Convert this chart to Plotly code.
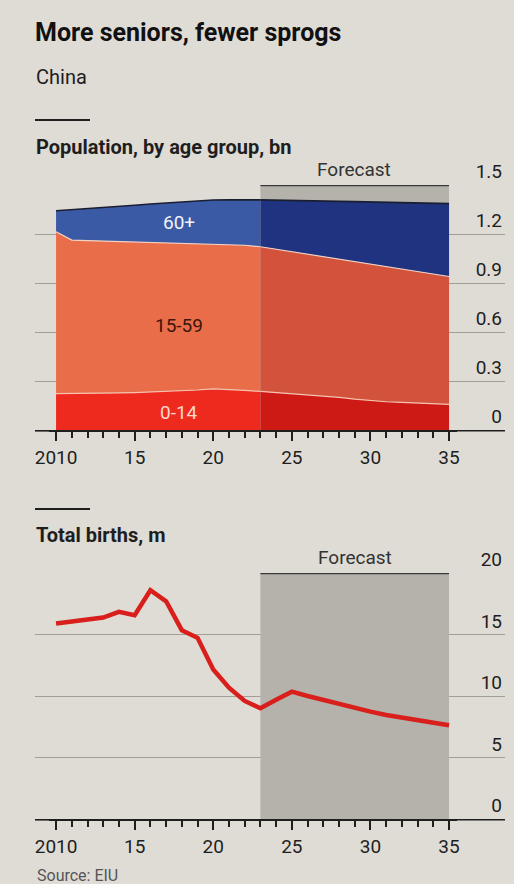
import plotly.graph_objects as go

# ---------------- data ----------------
years = list(range(2010, 2036))
forecast_start = 2023

age_0_14 = [0.223, 0.223, 0.224, 0.225, 0.227, 0.229, 0.232, 0.235, 0.239, 0.245,
            0.252, 0.249, 0.243, 0.236, 0.229, 0.222, 0.215, 0.208, 0.200, 0.189,
            0.179, 0.173, 0.169, 0.165, 0.161, 0.157]
age_15_59 = [0.991, 0.940, 0.936, 0.932, 0.927, 0.922, 0.916, 0.911, 0.905, 0.896,
             0.887, 0.887, 0.888, 0.886, 0.878, 0.870, 0.861, 0.853, 0.846, 0.842,
             0.837, 0.828, 0.816, 0.805, 0.794, 0.783]
age_60_plus = [0.128, 0.185, 0.195, 0.205, 0.215, 0.225, 0.236, 0.245, 0.253, 0.261,
               0.269, 0.274, 0.279, 0.287, 0.301, 0.314, 0.328, 0.341, 0.354, 0.367,
               0.380, 0.393, 0.407, 0.420, 0.433, 0.446]

births = [15.9, 16.05, 16.27, 16.38, 16.84, 16.57, 18.6, 17.7, 15.35, 14.73,
          12.16, 10.68, 9.6, 9.0, 9.7, 10.35, 10.0, 9.68, 9.33, 9.0,
          8.73, 8.46, 8.24, 8.03, 7.84, 7.62]

pop_ticks = [0, 0.3, 0.6, 0.9, 1.2, 1.5]
pop_ticktext = ["0", "0.3", "0.6", "0.9", "1.2", "1.5"]
birth_ticks = [0, 5, 10, 15, 20]
birth_ticktext = ["0", "5", "10", "15", "20"]
x_ticks = [2010, 2015, 2020, 2025, 2030, 2035]
x_ticktext = ["2010", "15", "20", "25", "30", "35"]

groups = ["0-14", "15-59", "60+"]

# ---------------- styling ----------------
W, H = 514, 884
BG = "#dfdcd5"
BAND = "#b5b2ac"
GRID = "#a19e98"
INK = "#1e1e1e"
FONT = "Roboto"

hist_colors = {"0-14": "#ee2a1f", "15-59": "#ea6d4a", "60+": "#3b5aa6"}
fc_colors = {"0-14": "#cd1a15", "15-59": "#d3523c", "60+": "#1f3380"}
edge_colors = {"0-14": "#f4c3b0", "15-59": "#f3d2c2", "60+": "#1a1f30"}
series = {"0-14": age_0_14, "15-59": age_15_59, "60+": age_60_plus}


def py(px):
    return 1 - px / H


def pxx(px):
    return px / W


fig = go.Figure()

i0 = years.index(forecast_start)
for name in groups:
    vals = series[name]
    fig.add_trace(go.Scatter(
        x=years[:i0 + 1], y=vals[:i0 + 1], stackgroup="hist", mode="lines",
        fillcolor=hist_colors[name],
        line=dict(color=edge_colors[name], width=1.2 if name != "60+" else 1.6),
        xaxis="x", yaxis="y", showlegend=False, hoverinfo="skip"))
for name in groups:
    vals = series[name]
    fig.add_trace(go.Scatter(
        x=years[i0:], y=vals[i0:], stackgroup="fc", mode="lines",
        fillcolor=fc_colors[name],
        line=dict(color=edge_colors[name], width=1.2 if name != "60+" else 1.6),
        xaxis="x", yaxis="y", showlegend=False, hoverinfo="skip"))

fig.add_trace(go.Scatter(
    x=years, y=births, mode="lines",
    line=dict(color="#d81f1c", width=4.5),
    xaxis="x2", yaxis="y2", showlegend=False, hoverinfo="skip"))

xr = [2008.66, 2038.56]
xdom = [pxx(35), pxx(505)]

xaxis_common = dict(
    domain=xdom, range=xr, tickmode="array", tickvals=x_ticks, ticktext=x_ticktext,
    ticks="outside", ticklen=9, tickwidth=1.5, tickcolor=INK,
    showline=True, linecolor=INK, linewidth=2, showgrid=False, zeroline=False,
    tickfont=dict(family=FONT, size=19, color=INK),
    minor=dict(tickmode="linear", tick0=years[0], dtick=1, ticks="outside", ticklen=6,
               tickwidth=1.5, tickcolor=INK, showgrid=False),
    fixedrange=True, automargin=False,
)
yaxis_common = dict(
    side="right", tickmode="array", ticks="", ticklabelposition="inside top",
    ticklabeloverflow="allow", showgrid=True, gridcolor=GRID, gridwidth=1,
    zeroline=False, showline=False, automargin=False,
    tickfont=dict(family=FONT, size=19, color=INK), fixedrange=True,
)

fig.update_layout(
    width=W, height=H, paper_bgcolor=BG, plot_bgcolor=BG,
    margin=dict(l=0, r=0, t=0, b=0, pad=0, autoexpand=False),
    xaxis=dict(anchor="y", **xaxis_common),
    yaxis=dict(anchor="x", domain=[py(430), py(185)], range=[0, 1.5],
               tickvals=pop_ticks, ticktext=pop_ticktext, **yaxis_common),
    xaxis2=dict(anchor="y2", **xaxis_common),
    yaxis2=dict(anchor="x2", domain=[py(819), py(573)], range=[0, 20],
                tickvals=birth_ticks, ticktext=birth_ticktext, **yaxis_common),
)

# forecast bands
fig.add_shape(type="rect", xref="x", yref="y", x0=forecast_start, x1=years[-1],
              y0=0, y1=1.5, fillcolor=BAND, line=dict(width=0), layer="between")
fig.add_shape(type="line", xref="x", yref="y", x0=forecast_start, x1=years[-1],
              y0=1.5, y1=1.5, line=dict(color="#3a3a3a", width=2.5), layer="above")
fig.add_shape(type="rect", xref="x2", yref="y2", x0=forecast_start, x1=years[-1],
              y0=0, y1=20, fillcolor=BAND, line=dict(width=0), layer="between")
fig.add_shape(type="line", xref="x2", yref="y2", x0=forecast_start, x1=years[-1],
              y0=20, y1=20, line=dict(color="#3a3a3a", width=2.5), layer="above")

# year ticks run only from 2010 to 2035: mask the minor ticks beyond them
for base in (430, 819):
    for x0, x1 in ((34, 49), (457, 506)):
        fig.add_shape(type="rect", xref="paper", yref="paper",
                      x0=pxx(x0), x1=pxx(x1), y0=py(base + 1.6), y1=py(base + 9),
                      fillcolor=BG, line=dict(width=0), layer="above")

# short rules
for y in (120, 509):
    fig.add_shape(type="line", xref="paper", yref="paper", x0=pxx(35), x1=pxx(90),
                  y0=py(y), y1=py(y), line=dict(color=INK, width=2))

def txt(text, x, y, size, bold=False, color=INK, anchor="left"):
    fig.add_annotation(text=f"<b>{text}</b>" if bold else text, xref="paper", yref="paper",
                       x=pxx(x), y=py(y), xanchor=anchor, yanchor="middle", showarrow=False,
                       font=dict(family=FONT, size=size, color=color))

txt("More seniors, fewer sprogs", 33, 33, 25, bold=True, color="#111")
txt("China", 34, 77, 20)
txt("Population, by age group, bn", 34, 147, 20, bold=True)
txt("Forecast", 354, 170, 19, anchor="center", color="#333")
txt("Total births, m", 34, 535, 20, bold=True)
txt("Forecast", 355, 557, 19, anchor="center", color="#333")
txt("Source: EIU", 35, 875, 16, color="#555")

# in-area labels (data coordinates)
label_x = 2017.8
for text, y, col in (("60+", 1.27, "#f2f2f8"), ("15-59", 0.64, "#3a160c"), ("0-14", 0.11, "#ffd8cc")):
    fig.add_annotation(text=text, xref="x", yref="y", x=label_x, y=y, showarrow=False,
                       font=dict(family=FONT, size=19, color=col))

fig.write_html("out.html", config={"displayModeBar": False},
               post_script="document.body.style.margin='0px';")
